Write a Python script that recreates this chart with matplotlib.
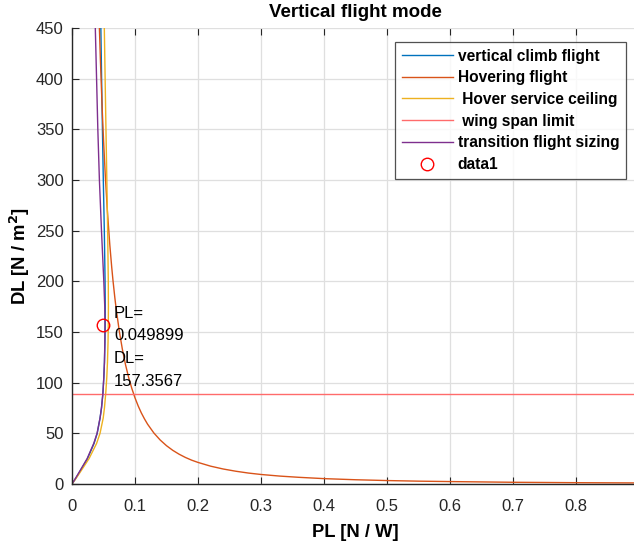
import matplotlib
matplotlib.use("Agg")
import matplotlib.pyplot as plt

plt.rcParams['font.family'] = ['Liberation Sans', 'DejaVu Sans']

# Disk-loading levels (N/m^2) used to trace the sizing curves
dl_levels = [0, 5, 10, 25, 40, 50, 65, 75, 89, 105, 120, 140, 157, 175, 200,
             250, 300, 350, 400, 450, 500]
pl_climb = [0, 0.0053, 0.0103, 0.0245, 0.035, 0.040, 0.0445, 0.0468, 0.049,
            0.0505, 0.0515, 0.0523, 0.0527, 0.0528, 0.0525, 0.0513, 0.0497,
            0.0483, 0.0470, 0.0458, 0.0446]
pl_ceiling = [0, 0.0058, 0.0112, 0.027, 0.039, 0.0445, 0.0495, 0.0515, 0.0535,
              0.0552, 0.0563, 0.0572, 0.0576, 0.0578, 0.0576, 0.0566, 0.0553,
              0.0539, 0.0526, 0.0513, 0.0500]
pl_transition = [0, 0.005, 0.0098, 0.024, 0.0345, 0.0398, 0.0445, 0.0468,
                 0.049, 0.0505, 0.0515, 0.0521, 0.0523, 0.0520, 0.0505, 0.0468,
                 0.0435, 0.0410, 0.0390, 0.0370, 0.0350]

# Hovering flight curve
pl_hover = [0.041, 0.043, 0.045, 0.048, 0.05, 0.053, 0.056, 0.06, 0.063, 0.065,
            0.068, 0.07, 0.075, 0.08, 0.085, 0.09, 0.095, 0.1, 0.105, 0.11,
            0.115, 0.12, 0.13, 0.14, 0.15, 0.16, 0.17, 0.18, 0.19, 0.2, 0.22,
            0.24, 0.26, 0.28, 0.3, 0.33, 0.36, 0.4, 0.45, 0.5, 0.55, 0.6, 0.7,
            0.8, 0.9]
dl_hover = [505.6, 459.7, 419.8, 368.9, 340.0, 302.6, 271.0, 236.1, 214.2,
            201.2, 183.8, 173.5, 151.1, 132.8, 117.6, 104.9, 94.2, 85.0, 77.1,
            70.2, 64.3, 59.0, 50.3, 43.4, 37.8, 33.2, 29.4, 26.2, 23.5, 21.3,
            17.6, 14.8, 12.6, 10.8, 9.4, 7.8, 6.6, 5.3, 4.2, 3.4, 2.8, 2.4,
            1.7, 1.3, 1.05]

span_limit_dl = 88.7
data_pl = 0.049899
data_dl = 157.3567

labels = ['vertical climb flight', 'Hovering flight', ' Hover service ceiling',
          ' wing span limit', 'transition flight sizing', 'data1']

fig = plt.figure(figsize=(6.34, 5.44), dpi=100)
ax = fig.add_axes([72/634, 1-484/544, 0.9*630/634, (484-28)/544])

ax.plot(pl_climb, dl_levels, color='#0072BD', lw=1.0, label=labels[0])
ax.plot(pl_hover, dl_hover, color='#D95319', lw=1.0, label=labels[1])
ax.plot(pl_ceiling, dl_levels, color='#EDB120', lw=1.0, label=labels[2])
ax.axhline(span_limit_dl, color='#FF6B6B', lw=1.0, label=labels[3])
ax.plot(pl_transition, dl_levels, color='#7E2F8E', lw=1.0, label=labels[4])
ax.plot([data_pl], [data_dl], 'o', mfc='none', mec='#FF0000', ms=9, mew=1.0,
        label=labels[5])

ax.text(0.0665, 176, 'PL=\n%.6f\nDL=\n%.4f' % (data_pl, data_dl),
        fontsize=12, va='top', ha='left', linespacing=1.65, color='#000000')

ax.set_xlim(0, 0.9)
ax.set_ylim(0, 450)
ax.set_xticks([0, 0.1, 0.2, 0.3, 0.4, 0.5, 0.6, 0.7, 0.8])
ax.set_xticklabels(['0', '0.1', '0.2', '0.3', '0.4', '0.5', '0.6', '0.7', '0.8'])
ax.set_yticks(range(0, 451, 50))

ax.grid(True, color='#DFDFDF', lw=0.9)
ax.set_axisbelow(True)
ax.spines['top'].set_visible(False)
ax.spines['right'].set_visible(False)
for s in ['left', 'bottom']:
    ax.spines[s].set_color('#262626')
    ax.spines[s].set_linewidth(1.0)
ax.tick_params(direction='in', length=5, colors='#262626', labelsize=12,
               top=True, width=0.8)
ax.tick_params(axis='x', pad=10.5)
ax.tick_params(axis='y', pad=6)

ax.set_title('Vertical flight mode', fontsize=13.5, fontweight='bold', pad=8)
ax.set_xlabel('PL [N / W]', fontsize=13.2, fontweight='bold', labelpad=7.5)
ax.set_ylabel('DL [N / m$^{\\mathbf{2}}$]', fontsize=13.3, fontweight='bold',
              labelpad=3)

leg = ax.legend(loc='upper left', bbox_to_anchor=((395-72)/567, (484-42)/456),
                prop={'weight': 'bold', 'size': 11.2}, frameon=True,
                fancybox=False, handlelength=3.3, handletextpad=0.3,
                labelspacing=0.43, borderpad=0.42, borderaxespad=0)
leg.get_frame().set_edgecolor('#262626')
leg.get_frame().set_linewidth(0.9)

fig.savefig('out.png', dpi=100)
